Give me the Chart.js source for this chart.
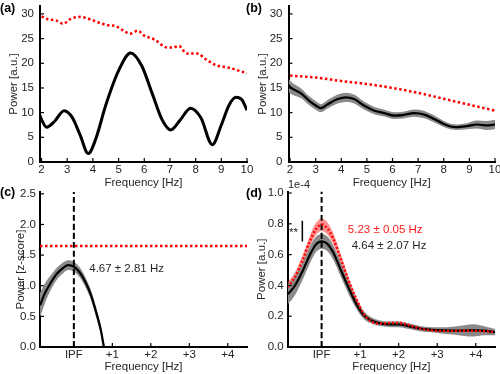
<!DOCTYPE html>
<html><head><meta charset="utf-8">
<script src="https://cdn.jsdelivr.net/npm/chart.js@4.4.1/dist/chart.umd.min.js"></script>
<style>
html,body{margin:0;padding:0;background:#fff;}
#wrap{position:relative;width:500px;height:374px;overflow:hidden;background:#fff;}
canvas{position:absolute;left:0;top:0;}
</style></head><body>
<div id="wrap">
<canvas id="ca" width="500" height="374"></canvas>
<canvas id="cb" width="500" height="374"></canvas>
<canvas id="cc" width="500" height="374"></canvas>
<canvas id="cd" width="500" height="374"></canvas>
</div>
<script>
// ---------- DATA ----------
// (a) single-subject spectrum
const freqA  = [1.94, 2.0, 2.2, 2.5, 2.88, 3.2, 3.5, 3.82, 4.1, 4.5, 5.0, 5.47, 5.9, 6.3, 6.7, 7.03, 7.4, 7.8, 8.2, 8.65, 9.0, 9.3, 9.57, 9.8, 10.0];
const powerA = [9.4, 8.6, 7.05, 8.2, 10.4, 9.0, 5.5, 1.7, 4.5, 11.5, 18.5, 22.1, 19.5, 14.0, 8.5, 6.5, 8.5, 10.9, 9.0, 3.5, 7.5, 11.5, 13.1, 12.6, 10.5];
const freqAThr = [2.0, 2.25, 2.55, 2.85, 3.1, 3.5, 3.9, 4.25, 4.6, 4.9, 5.25, 5.45, 5.75, 6.0, 6.4, 6.9, 7.1, 7.35, 7.65, 8.05, 8.4, 8.8, 9.3, 9.8, 10.0];
const thrA     = [29.5, 28.9, 28.7, 28.0, 28.9, 29.4, 28.9, 28.2, 27.7, 27.5, 26.4, 26.0, 26.6, 25.6, 24.8, 23.2, 23.2, 23.5, 22.0, 22.0, 20.8, 19.6, 19.1, 18.3, 18.0];
const ticksAX = [2, 3, 4, 5, 6, 7, 8, 9, 10];
const ticksAY = [0, 5, 10, 15, 20, 25, 30];

// (b) group spectrum
const freqB  = [1.94, 2.0, 2.43, 2.75, 3.08, 3.2, 3.47, 3.86, 4.18, 4.5, 4.9, 5.29, 5.68, 6.07, 6.4, 6.85, 7.24, 7.63, 8.0, 8.26, 8.52, 8.9, 9.3, 9.68, 10.0];
const powerB = [15.6, 15.2, 13.9, 12.4, 11.2, 10.9, 11.7, 12.75, 13.1, 12.75, 11.4, 10.4, 9.9, 9.4, 9.5, 9.9, 9.6, 8.7, 7.7, 7.2, 7.05, 7.25, 7.6, 7.4, 7.6];
const errB   = [1.3, 1.25, 1.0, 0.9, 0.85, 0.8, 0.85, 0.9, 0.95, 0.9, 0.8, 0.75, 0.7, 0.7, 0.7, 0.75, 0.75, 0.7, 0.6, 0.55, 0.55, 0.6, 0.8, 0.9, 0.95];
const freqBThr = [2, 3, 4, 5, 6, 7, 8, 9, 10];
const thrB     = [17.5, 17.1, 16.4, 15.8, 15.0, 14.0, 12.8, 11.6, 10.4];

// (c) z-scored power relative to IPF
const relFreqC = [-0.88, -0.75, -0.6, -0.45, -0.3, -0.15, 0, 0.15, 0.3, 0.45, 0.6, 0.7, 0.78, 0.9];
const zC       = [0.68, 0.88, 1.05, 1.19, 1.28, 1.335, 1.31, 1.22, 1.06, 0.84, 0.52, 0.28, 0.0, -0.38];
const errC     = [0.2, 0.16, 0.12, 0.1, 0.09, 0.08, 0.08, 0.08, 0.08, 0.08, 0.08, 0.08, 0.08, 0.08];
const thrCX = [-0.88, 4.5];
const thrCY = [1.65, 1.65];
const ticksCY = [0, 0.5, 1.0, 1.5, 2.0, 2.5];

// (d) power (x1e-4) relative to IPF
const relFreqD  = [-0.88, -0.7, -0.5, -0.3, -0.15, 0, 0.15, 0.3, 0.5, 0.7, 0.9, 1.1, 1.3, 1.55, 1.8, 2.0, 2.25, 2.55, 2.85, 3.1, 3.4, 3.7, 3.95, 4.2, 4.5];
const powerD    = [0.342, 0.395, 0.49, 0.6, 0.665, 0.686, 0.67, 0.615, 0.5, 0.385, 0.28, 0.205, 0.172, 0.152, 0.147, 0.147, 0.136, 0.12, 0.112, 0.108, 0.107, 0.107, 0.108, 0.106, 0.097];
const errD      = [0.065, 0.062, 0.058, 0.055, 0.05, 0.048, 0.048, 0.047, 0.045, 0.04, 0.032, 0.025, 0.02, 0.018, 0.018, 0.018, 0.018, 0.017, 0.017, 0.02, 0.025, 0.035, 0.04, 0.03, 0.02];
const powerDRed = [0.39, 0.45, 0.56, 0.69, 0.765, 0.795, 0.77, 0.705, 0.57, 0.43, 0.31, 0.213, 0.165, 0.152, 0.156, 0.156, 0.143, 0.12, 0.108, 0.104, 0.104, 0.106, 0.104, 0.103, 0.097];
const errDRed   = [0.03, 0.03, 0.032, 0.035, 0.04, 0.042, 0.04, 0.035, 0.03, 0.025, 0.02, 0.015, 0.012, 0.01, 0.01, 0.01, 0.01, 0.01, 0.01, 0.01, 0.01, 0.01, 0.01, 0.01, 0.01];
const sigBarX = [-0.5, -0.5];
const sigBarY = [0.686, 0.82];
const ticksDY = [0, 0.2, 0.4, 0.6, 0.8, 1.0];

// shared relative-frequency axis
const relTicks = [0, 1, 2, 3, 4];
const relTickLabels = ['IPF', '+1', '+2', '+3', '+4'];
const ipfX = [0, 0];

// ---------- HELPERS ----------
const FONT = '"Liberation Sans", Arial, Helvetica, sans-serif';
const TXT = '#262626';
const GREY = '#8a8a8a';
const RED = '#ff0000';

function zip(xs, ys){ return xs.map((x, i) => ({x: x, y: ys[i]})); }
function band(xs, ys, es, color, order){
  return [
    {data: zip(xs, ys.map((v, i) => v - es[i])), borderWidth: 0, pointRadius: 0, fill: false, order: order},
    {data: zip(xs, ys.map((v, i) => v + es[i])), borderWidth: 0, pointRadius: 0, fill: '-1', backgroundColor: color, order: order}
  ];
}
function line(xs, ys, color, width, order, dash, clip){
  const d = {data: zip(xs, ys), borderColor: color, borderWidth: width, pointRadius: 0, fill: false, order: order, borderCapStyle: 'butt'};
  if (dash) d.borderDash = dash;
  if (clip !== undefined) d.clip = clip;
  return d;
}

function overlay(items){
  return {
    id: 'overlay',
    afterDraw(chart){
      const {ctx, chartArea: ca, scales: {x, y}} = chart;
      ctx.save();
      ctx.strokeStyle = '#000'; ctx.lineWidth = 1.2;
      x.ticks.forEach(t => { const p = x.getPixelForValue(t.value); ctx.beginPath(); ctx.moveTo(p, ca.bottom); ctx.lineTo(p, ca.bottom - 4); ctx.stroke(); });
      y.ticks.forEach(t => { const p = y.getPixelForValue(t.value); ctx.beginPath(); ctx.moveTo(ca.left, p); ctx.lineTo(ca.left + 4, p); ctx.stroke(); });
      items.forEach(it => {
        ctx.font = it.font || ('11.5px ' + FONT);
        ctx.fillStyle = it.color || TXT;
        ctx.textAlign = it.align || 'left';
        ctx.textBaseline = 'middle';
        const px = it.data ? x.getPixelForValue(it.x) : it.x;
        const py = it.data ? y.getPixelForValue(it.y) : it.y;
        ctx.fillText(it.text, px, py);
      });
      ctx.restore();
    }
  };
}

function scales(o){
  const f = {family: FONT, size: 11.5};
  return {
    x: {
      type: 'linear', min: o.xmin, max: o.xmax,
      afterFit(s){ s.height = o.xh; s.paddingLeft = 0; s.paddingRight = 0; s.paddingTop = 0; s.paddingBottom = 0; },
      afterBuildTicks(s){ s.ticks = o.xticks.map(v => ({value: v})); },
      ticks: {font: f, color: TXT, padding: 1, maxRotation: 0, minRotation: 0, autoSkip: false,
        callback: o.xlabels ? (v => o.xlabels[o.xticks.indexOf(v)]) : (v => String(v))},
      grid: {display: true, drawOnChartArea: false, drawTicks: false},
      border: {display: true, color: '#000', width: 2},
      title: {display: true, text: 'Frequency [Hz]', font: f, color: TXT, padding: {top: 0, bottom: 0}}
    },
    y: {
      type: 'linear', min: o.ymin, max: o.ymax,
      afterFit(s){ s.width = o.yw; s.paddingLeft = 0; s.paddingRight = 0; s.paddingTop = 0; s.paddingBottom = 0; },
      afterBuildTicks(s){ s.ticks = o.yticks.map(v => ({value: v})); },
      ticks: {font: f, color: TXT, padding: o.ytp, autoSkip: false,
        callback: o.ydec ? (v => v.toFixed(o.ydec)) : (v => String(v))},
      grid: {display: true, drawOnChartArea: false, drawTicks: false},
      border: {display: true, color: '#000', width: 2},
      title: {display: true, text: o.ytitle, font: f, color: TXT, padding: {top: o.ytitlePad, bottom: 0}}
    }
  };
}

function make(id, datasets, pad, sc, items){
  return new Chart(document.getElementById(id), {
    type: 'line',
    data: {datasets: datasets},
    options: {
      responsive: false, animation: false, devicePixelRatio: 1,
      layout: {padding: pad},
      plugins: {legend: {display: false}, tooltip: {enabled: false}},
      elements: {line: {cubicInterpolationMode: 'monotone'}, point: {radius: 0}},
      scales: scales(sc)
    },
    plugins: [overlay(items)]
  });
}
const boldF = 'bold 12.5px ' + FONT;

// (a)
make('ca', [
  line(freqAThr, thrA, RED, 2.5, 0, [2.5, 2.5]),
  line(freqA, powerA, '#000', 3, 1)
], {left: 0, top: 6, right: 253, bottom: 184},
{xmin: 1.94, xmax: 10, xticks: ticksAX, xh: 28, ymin: 0, ymax: 31.6, yticks: ticksAY, yw: 40, ytp: 6, ytitle: 'Power [a.u.]', ytitlePad: 7},
[{text: '(a)', x: 0, y: 9, font: boldF, color: '#000'}]);

// (b)
make('cb', [
  line(freqBThr, thrB, RED, 2.5, 0, [2.5, 2.5]),
  line(freqB, powerB, '#000', 2.2, 1),
  ...band(freqB, powerB, errB, GREY, 2)
], {left: 250, top: 6, right: 5, bottom: 184},
{xmin: 1.94, xmax: 10, xticks: ticksAX, xh: 28, ymin: 0, ymax: 31.6, yticks: ticksAY, yw: 38.5, ytp: 6, ytitle: 'Power [a.u.]', ytitlePad: 6.4},
[{text: '(b)', x: 246, y: 9, font: boldF, color: '#000'}]);

// (c)
make('cc', [
  line(thrCX, thrCY, RED, 2.5, 0, [2.5, 2.5]),
  line(ipfX, [0, 2.53], '#000', 2, 1, [6, 3]),
  line(relFreqC, zC, '#000', 2.2, 2, null, 0),
  ...band(relFreqC, zC, errC, GREY, 3)
], {left: 0, top: 192, right: 253, bottom: 0},
{xmin: -0.88, xmax: 4.5, xticks: relTicks, xlabels: relTickLabels, xh: 27, ymin: 0, ymax: 2.53, yticks: ticksCY, ydec: 1, yw: 40, ytp: 4, ytitle: 'Power [z-score]', ytitlePad: 13.8},
[{text: '(c)', x: 0, y: 193, font: boldF, color: '#000'},
 {text: '4.67 \u00b1 2.81 Hz', x: 0.4, y: 1.28, data: true}]);

// (d)
make('cd', [
  line(relFreqD, powerDRed, RED, 2.5, 0, [2, 2]),
  line(ipfX, [0, 1.01], '#000', 2, 0, [6, 3]),
  line(sigBarX, sigBarY, '#000', 1.5, 0),
  line(relFreqD, powerD, '#000', 2.2, 2),
  ...band(relFreqD, powerD, errD, GREY, 3),
  ...band(relFreqD, powerDRed, errDRed, 'rgba(255,70,70,0.6)', 4)
], {left: 250, top: 191.5, right: 5, bottom: 0},
{xmin: -0.88, xmax: 4.5, xticks: relTicks, xlabels: relTickLabels, xh: 27, ymin: 0, ymax: 1.01, yticks: ticksDY, ydec: 1, yw: 37.7, ytp: 4, ytitle: 'Power [a.u.]', ytitlePad: 4.8},
[{text: '(d)', x: 246, y: 193.5, font: boldF, color: '#000'},
 {text: '1e-4', x: 288, y: 185, font: '11px ' + FONT},
 {text: '**', x: -0.73, y: 0.742, data: true, align: 'center'},
 {text: '5.23 \u00b1 0.05 Hz', x: 0.68, y: 0.758, data: true, color: '#ff1a1a'},
 {text: '4.64 \u00b1 2.07 Hz', x: 0.78, y: 0.654, data: true}]);
</script>
</body></html>
